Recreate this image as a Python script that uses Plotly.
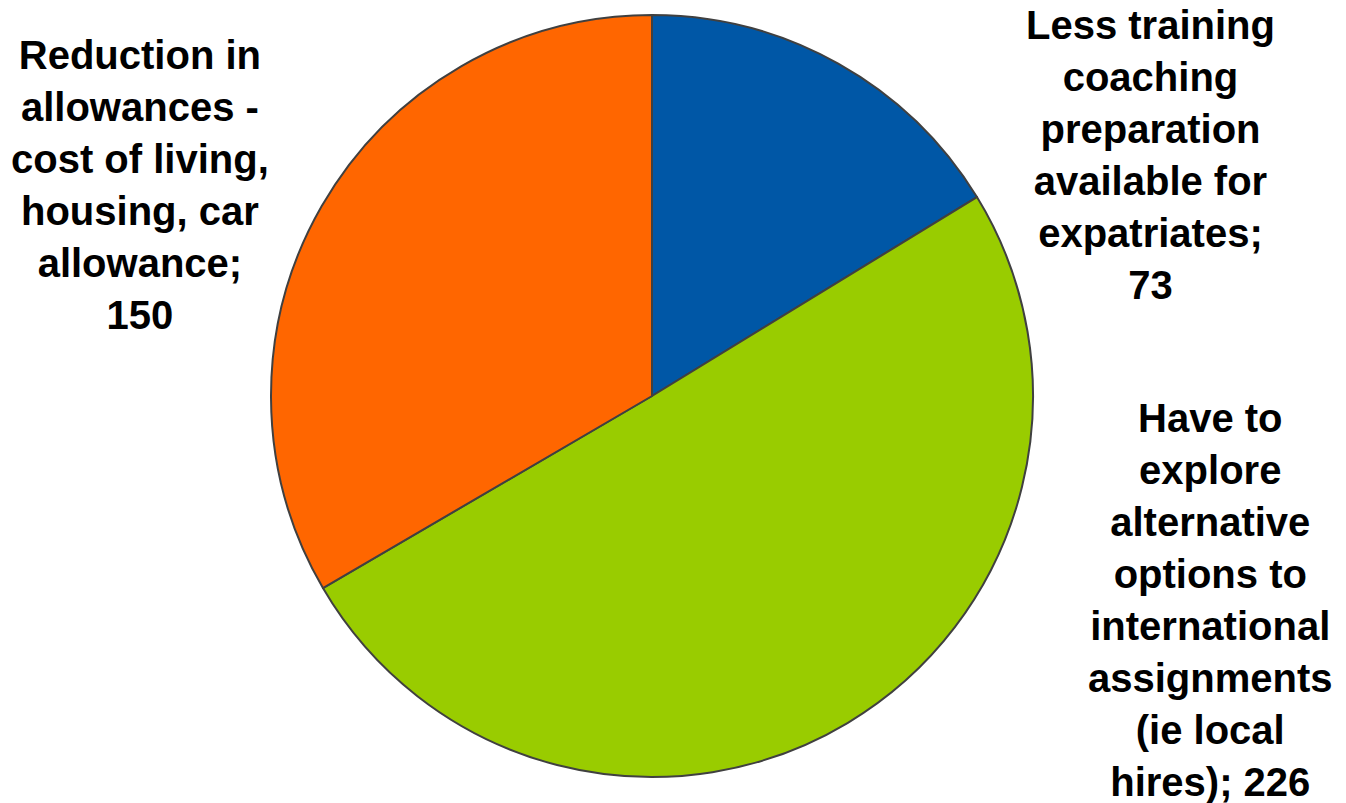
import plotly.graph_objects as go

# Slice categories (as drawn, line-broken) and counts
categories = [
    "Less training<br>coaching<br>preparation<br>available for<br>expatriates;",
    "Have to<br>explore<br>alternative<br>options to<br>international<br>assignments<br>(ie local<br>hires);",
    "Reduction in<br>allowances -<br>cost of living,<br>housing, car<br>allowance;",
]
values = [73, 226, 150]
colors = ["#0057A6", "#99CC00", "#FF6600"]

# Label placement (pixel positions of label centres) for each slice
label_x = [1150, 1210, 140]
label_y = [155, 600, 185]
# whether the value sits on its own line after the category
value_newline = [True, False, True]

W, H = 1346, 803
cx, cy, r = 652, 396, 381

fig = go.Figure(
    go.Pie(
        labels=[c.replace("<br>", " ") for c in categories],
        values=values,
        sort=False,
        direction="clockwise",
        rotation=0,
        textinfo="none",
        hoverinfo="label+value",
        marker=dict(colors=colors, line=dict(color="#404040", width=2)),
        domain=dict(
            x=[(cx - r) / W, (cx + r) / W],
            y=[(H - cy - r) / H, (H - cy + r) / H],
        ),
        showlegend=False,
    )
)

for cat, val, x, y, nl in zip(categories, values, label_x, label_y, value_newline):
    sep = "<br>" if nl else " "
    fig.add_annotation(
        text=f"<b>{cat}{sep}{val}</b>",
        x=x / W,
        y=1 - y / H,
        xref="paper",
        yref="paper",
        xanchor="center",
        yanchor="middle",
        align="center",
        showarrow=False,
        font=dict(family="Liberation Sans, Arial, sans-serif", size=40, color="#000000"),
    )

fig.update_layout(
    width=W,
    height=H,
    margin=dict(l=0, r=0, t=0, b=0),
    paper_bgcolor="#FFFFFF",
    plot_bgcolor="#FFFFFF",
)

fig.write_html("out.html")
